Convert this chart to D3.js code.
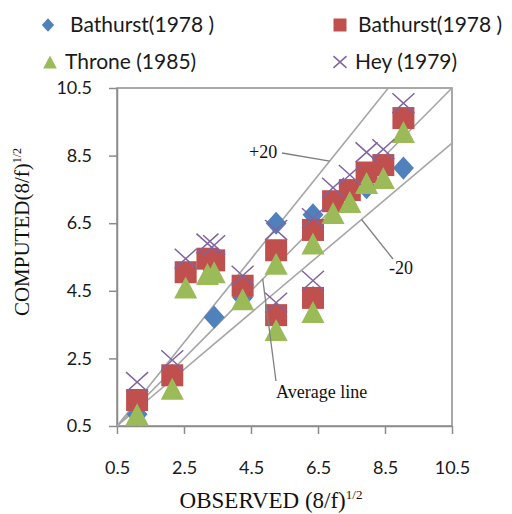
<!DOCTYPE html>
<html>
<head>
<meta charset="utf-8">
<script src="https://cdn.jsdelivr.net/npm/d3@7"></script>
<style>
  html, body { margin: 0; padding: 0; background: #fff; }
  svg { display: block; }
  .sans { font-family: Lato, "Open Sans", sans-serif; fill: #1a1a1a; }
  .serif { font-family: "Liberation Serif", "DejaVu Serif", serif; fill: #111; }
</style>
</head>
<body>
<svg id="chart" width="512" height="514"></svg>
<script>
// Observed friction factor (8/f)^1/2 shared by all methods
const observed = [1.1, 2.15, 2.55, 3.2, 3.4, 4.25, 5.25, 5.25, 6.35, 6.35, 6.95, 7.45, 7.95, 8.45, 9.05];

// Computed (8/f)^1/2 per method
const bathurstA = [0.85, 2.0, 5.0, 5.4, 3.72, 4.3, 6.5, 3.8, 6.75, 4.3, 7.1, 7.4, 7.55, 8.2, 8.13];
const bathurstB = [1.27, 2.0, 5.05, 5.45, 5.4, 4.65, 5.7, 3.78, 6.3, 4.29, 7.15, 7.48, 8.0, 8.22, 9.61];
const throne    = [0.85, 1.6, 4.6, 5.0, 5.05, 4.25, 5.3, 3.34, 5.9, 3.87, 6.8, 7.13, 7.69, 7.84, 9.2];
const hey       = [1.8, 2.45, 5.45, 5.9, 5.85, 4.95, 6.3, 4.15, 6.65, 4.8, 7.55, 7.93, 8.6, 8.69, 10.05];

const seriesNames = ["Bathurst(1978 )", "Bathurst(1978 )", "Throne (1985)", "Hey (1979)"];
const seriesColors = ["#4f81bd", "#c0504d", "#9bbb59", "#8064a2"];
const seriesShapes = ["diamond", "square", "triangle", "cross"];

// Axis ticks
const tickValues = [0.5, 2.5, 4.5, 6.5, 8.5, 10.5];
const tickLabels = ["0.5", "2.5", "4.5", "6.5", "8.5", "10.5"];

// Reference lines: +20 %, average (1:1) and -20 %
const refLabels = ["+20", "Average line", "-20"];
const refX0 = [0.5, 0.5, 0.5];
const refY0 = [0.5, 0.5, 0.5];
const refX1 = [8.6, 10.5, 10.5];
const refY1 = [10.5, 10.5, 8.87];

const svg = d3.select("#chart");
const x = d3.scaleLinear().domain([0.5, 10.5]).range([117, 452]);
const y = d3.scaleLinear().domain([0.5, 10.5]).range([426, 88]);

const axisColor = "#8c8c8c";

// Plot frame
svg.append("rect")
  .attr("x", x(0.5)).attr("y", y(10.5))
  .attr("width", x(10.5) - x(0.5)).attr("height", y(0.5) - y(10.5))
  .attr("fill", "none").attr("stroke", axisColor).attr("stroke-width", 1.5);

// Axes
const fmt = (d, i) => tickLabels[i];
const xAxis = svg.append("g").attr("transform", `translate(0,${y(0.5)})`)
  .call(d3.axisBottom(x).tickValues(tickValues).tickFormat(fmt).tickSize(8).tickSizeOuter(0).tickPadding(27));
const yAxis = svg.append("g").attr("transform", `translate(${x(0.5)},0)`)
  .call(d3.axisLeft(y).tickValues(tickValues).tickFormat(fmt).tickSize(8).tickSizeOuter(0).tickPadding(17));
[xAxis, yAxis].forEach(g => {
  g.select(".domain").attr("stroke", axisColor).attr("stroke-width", 1.5);
  g.selectAll(".tick line").attr("stroke", axisColor).attr("stroke-width", 1.5);
  g.selectAll(".tick text").attr("class", "sans").attr("font-size", 18).attr("fill", "#1a1a1a");
});

// Reference lines
const lineColor = "#a6a6a6";
refLabels.forEach((lab, i) => {
  svg.append("line")
    .attr("x1", x(refX0[i])).attr("y1", y(refY0[i]))
    .attr("x2", x(refX1[i])).attr("y2", y(refY1[i]))
    .attr("stroke", lineColor).attr("stroke-width", 1.6);
});
const onRef = (i, v) => refY0[i] + (v - refX0[i]) * (refY1[i] - refY0[i]) / (refX1[i] - refX0[i]);

// Marker paths
function markerPath(shape, s) {
  const p = d3.path();
  if (shape === "diamond") {
    p.moveTo(0, -s * 1.05); p.lineTo(s * 0.95, 0); p.lineTo(0, s * 1.05); p.lineTo(-s * 0.95, 0); p.closePath();
  } else if (shape === "square") {
    p.rect(-s, -s, 2 * s, 2 * s);
  } else if (shape === "triangle") {
    p.moveTo(0, -s); p.lineTo(s * 1.05, s); p.lineTo(-s * 1.05, s); p.closePath();
  } else {
    p.moveTo(-s, -s * 0.9); p.lineTo(s, s * 0.9);
    p.moveTo(-s, s * 0.9); p.lineTo(s, -s * 0.9);
  }
  return p.toString();
}

function drawMarker(g, shape, color, cx, cy, s) {
  const el = g.append("path")
    .attr("d", markerPath(shape, s))
    .attr("transform", `translate(${cx},${cy})`);
  if (shape === "cross") el.attr("fill", "none").attr("stroke", color).attr("stroke-width", 1.5);
  else el.attr("fill", color);
}

// Data points
const computed = [bathurstA, bathurstB, throne, hey];
computed.forEach((vals, si) => {
  const g = svg.append("g");
  vals.forEach((v, i) => drawMarker(g, seriesShapes[si], seriesColors[si], x(observed[i]), y(v), 11));
});

// Line annotations with leaders
const leaderColor = "#7f7f7f";
function leader(x1, y1, x2, y2) {
  svg.append("line").attr("x1", x1).attr("y1", y1).attr("x2", x2).attr("y2", y2)
    .attr("stroke", leaderColor).attr("stroke-width", 1.3);
}
// +20
leader(282, 153, x(6.85), y(onRef(0, 6.85)));
svg.append("text").attr("class", "serif").attr("x", 249).attr("y", 158).attr("font-size", 18).text(refLabels[0]);
// average
leader(x(4.85), y(onRef(1, 4.85)), 276, 381);
svg.append("text").attr("class", "serif").attr("x", 276).attr("y", 398).attr("font-size", 18).text(refLabels[1]);
// -20
leader(x(7.8), y(onRef(2, 7.8)), 393, 259);
svg.append("text").attr("class", "serif").attr("x", 389).attr("y", 274).attr("font-size", 18).text(refLabels[2]);

// Axis titles
const xt = svg.append("text").attr("class", "serif").attr("x", 271).attr("y", 508)
  .attr("text-anchor", "middle").attr("font-size", 23);
xt.append("tspan").text("OBSERVED (8/f)");
xt.append("tspan").attr("font-size", 13).attr("dy", -9).text("1/2");

const yt = svg.append("text").attr("class", "serif")
  .attr("transform", "translate(29,232) rotate(-90)")
  .attr("text-anchor", "middle").attr("font-size", 21);
yt.append("tspan").text("COMPUTED(8/f)");
yt.append("tspan").attr("font-size", 12).attr("dy", -8).text("1/2");

// Legend
const legendPos = [[48, 25, 70], [340, 25, 358], [50, 62, 65], [340, 62, 355]];
seriesNames.forEach((name, i) => {
  const [mx, my, tx] = legendPos[i];
  const g = svg.append("g");
  drawMarker(g, seriesShapes[i], seriesColors[i], mx, my, 6.5);
  g.append("text").attr("class", "sans").attr("x", tx).attr("y", my + 7)
    .attr("font-size", 21).text(name);
});
</script>
</body>
</html>
